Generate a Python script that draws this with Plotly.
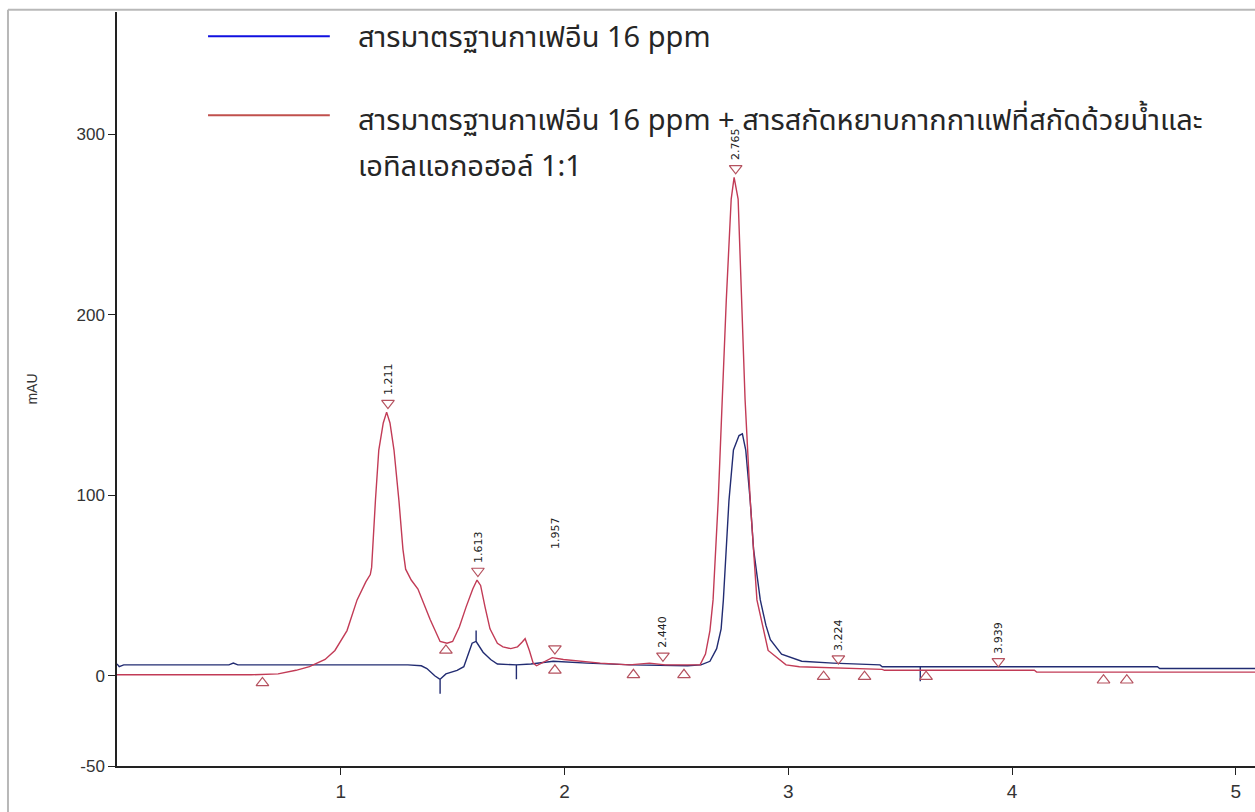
import plotly.graph_objects as go

# ---------------- data ----------------
red_x = [0.00, 0.30, 0.60, 0.72, 0.80, 0.86, 0.93, 0.974, 1.028, 1.073, 1.112, 1.132, 1.138, 1.155,
         1.17, 1.19, 1.205, 1.22, 1.238, 1.26, 1.278, 1.29, 1.315, 1.345, 1.37, 1.40, 1.444, 1.475,
         1.50, 1.53, 1.56, 1.59, 1.609, 1.625, 1.645, 1.667, 1.70, 1.725, 1.76, 1.79, 1.81, 1.824,
         1.843, 1.86, 1.875, 1.90, 1.945, 1.995, 2.08, 2.16, 2.29, 2.38, 2.45, 2.55, 2.606, 2.63,
         2.65, 2.664, 2.687, 2.705, 2.723, 2.745, 2.758, 2.776, 2.79, 2.807, 2.83, 2.86, 2.91, 2.99,
         3.05, 3.15, 3.30, 3.42, 3.43, 3.80, 4.10, 4.11, 4.60, 5.09]
red_y = [0.5, 0.5, 0.5, 1.0, 3.0, 5.0, 9.0, 14, 25, 42, 52, 56, 60, 97,
         125, 140, 146, 140, 125, 97, 70, 59, 53, 48, 40, 31, 19, 18,
         19, 27, 38, 48, 53, 50, 38, 26, 18, 16, 15, 16, 18.5, 20.5,
         14, 7, 5.5, 7, 10, 9, 8, 7, 6, 7, 6, 6, 6, 12,
         25, 42, 97, 153, 208, 264, 276, 264, 208, 153, 97, 42, 14, 6,
         5, 4.5, 4, 3.5, 3, 3, 3, 2, 2, 2]

blue_x = [0.00, 0.01, 0.03, 0.50, 0.52, 0.54, 0.95, 1.30, 1.36, 1.385, 1.42, 1.444, 1.444, 1.444,
          1.47, 1.52, 1.55, 1.587, 1.605, 1.605, 1.605, 1.636, 1.67, 1.70, 1.785, 1.785, 1.785,
          1.85, 1.95, 2.10, 2.30, 2.55, 2.61, 2.65, 2.68, 2.70, 2.71, 2.735, 2.755, 2.78, 2.795,
          2.81, 2.83, 2.845, 2.875, 2.90, 2.92, 2.97, 3.06, 3.20, 3.30, 3.41, 3.42, 3.59, 3.59,
          3.59, 4.65, 4.66, 5.09]
blue_y = [6.5, 5.0, 6.0, 6.0, 7.0, 6.0, 6.0, 6.0, 5.5, 4.0, 0.0, -2.0, -10.0, -2.0,
          1.0, 3.0, 5.0, 18, 19, 25, 19, 13, 9, 6.5, 6, -2, 6,
          6.5, 8, 7, 6, 5.5, 6, 8, 15, 26, 42, 97, 125, 133, 134,
          125, 97, 70, 42, 28, 20, 12, 8, 7, 6.5, 6, 5, 5, -3,
          5, 5, 4, 4]

# peak apex marks (down triangles) and labels
peak_rt = [1.211, 1.613, 1.957, 2.440, 2.765, 3.224, 3.939]
peak_y = [151, 58, 15, 11, 281, 9.5, 8]
peak_labels = ["1.211", "1.613", "1.957", "2.440", "2.765", "3.224", "3.939"]
label_1957_y = 79

# baseline marks (up triangles)
base_rt = [0.65, 1.47, 1.957, 2.308, 2.534, 3.158, 3.341, 3.616, 4.409, 4.513]
base_y = [-4, 14, 3, 0.5, 0.5, -0.5, -0.5, -0.5, -2.5, -2.5]

y_ticks = [-50, 0, 100, 200, 300]
x_ticks = [1, 2, 3, 4, 5]

legend_blue = "สารมาตรฐานกาเฟอีน 16 ppm"
legend_red_1 = "สารมาตรฐานกาเฟอีน 16 ppm + สารสกัดหยาบกากกาแฟที่สกัดด้วยน้ำและ"
legend_red_2 = "เอทิลแอกอฮอล์ 1:1"

RED = "#c23b56"
BLUE = "#222c72"
MARK = "#b5525f"
THAI = "Noto Sans Thai, Tahoma, Leelawadee UI, Noto Sans, DejaVu Sans, sans-serif"
TICKFONT = "Liberation Sans, Arial, sans-serif"

fig = go.Figure()
fig.add_trace(go.Scatter(x=blue_x, y=blue_y, mode="lines",
                         line=dict(color=BLUE, width=1.4), showlegend=False))
fig.add_trace(go.Scatter(x=red_x, y=red_y, mode="lines",
                         line=dict(color=RED, width=1.4), showlegend=False))
fig.add_trace(go.Scatter(x=peak_rt, y=peak_y, mode="markers",
                         marker=dict(symbol="triangle-down-open", size=11, color=MARK,
                                     line=dict(width=1.2)), showlegend=False))
fig.add_trace(go.Scatter(x=base_rt, y=base_y, mode="markers",
                         marker=dict(symbol="triangle-up-open", size=11, color=MARK,
                                     line=dict(width=1.2)), showlegend=False))

annotations = []
for rt, yv, lab in zip(peak_rt, peak_y, peak_labels):
    if lab == "1.957":
        annotations.append(dict(x=rt, y=label_1957_y, text=lab, showarrow=False, textangle=-90,
                                xanchor="center", yanchor="middle",
                                font=dict(family="DejaVu Sans", size=11, color="#222")))
    else:
        annotations.append(dict(x=rt, y=yv, text=lab, showarrow=False, textangle=-90,
                                xanchor="center", yanchor="bottom", yshift=6,
                                font=dict(family="DejaVu Sans", size=11, color="#222")))

# manual legend
annotations.append(dict(xref="paper", yref="paper", x=0.210, y=0.965, text=legend_blue,
                        showarrow=False, xanchor="left", yanchor="middle",
                        font=dict(family=THAI, size=29, color="#262626")))
annotations.append(dict(xref="paper", yref="paper", x=0.210, y=0.856, text=legend_red_1,
                        showarrow=False, xanchor="left", yanchor="middle",
                        font=dict(family=THAI, size=29, color="#262626")))
annotations.append(dict(xref="paper", yref="paper", x=0.210, y=0.794, text=legend_red_2,
                        showarrow=False, xanchor="left", yanchor="middle",
                        font=dict(family=THAI, size=29, color="#262626")))

shapes = [
    dict(type="line", xref="paper", yref="paper", x0=0.080, x1=0.187, y0=0.968, y1=0.968,
         line=dict(color="#1010e0", width=2)),
    dict(type="line", xref="paper", yref="paper", x0=0.080, x1=0.187, y0=0.863, y1=0.863,
         line=dict(color="#c0504d", width=2)),
    # outer frame
    dict(type="line", xref="paper", yref="paper", x0=-0.0958, x1=-0.0958, y0=1.003, y1=-0.07,
         line=dict(color="#b8b8b8", width=2)),
    dict(type="line", xref="paper", yref="paper", x0=-0.0958, x1=1.01, y0=1.003, y1=1.003,
         line=dict(color="#b8b8b8", width=2)),
]

fig.update_layout(
    width=1255, height=812,
    margin=dict(l=117, r=0, t=12, b=46),
    paper_bgcolor="white", plot_bgcolor="white",
    annotations=annotations, shapes=shapes,
    showlegend=False,
)
fig.update_xaxes(range=[0, 5.086], tickvals=x_ticks, ticktext=[str(v) for v in x_ticks],
                 showgrid=False, zeroline=False, showline=True, linecolor="#222", linewidth=1.5,
                 ticks="outside", ticklen=7, tickcolor="#222",
                 tickfont=dict(family=TICKFONT, size=19, color="#333"))
fig.update_yaxes(range=[-50, 367.6], tickvals=y_ticks, ticktext=[str(v) for v in y_ticks],
                 showgrid=False, zeroline=False, showline=True, linecolor="#222", linewidth=1.5,
                 ticks="outside", ticklen=7, tickcolor="#222",
                 tickfont=dict(family=TICKFONT, size=17, color="#333"),
                 title=dict(text="mAU", font=dict(family=TICKFONT, size=14, color="#333"),
                            standoff=36))

fig.write_html("out.html")
